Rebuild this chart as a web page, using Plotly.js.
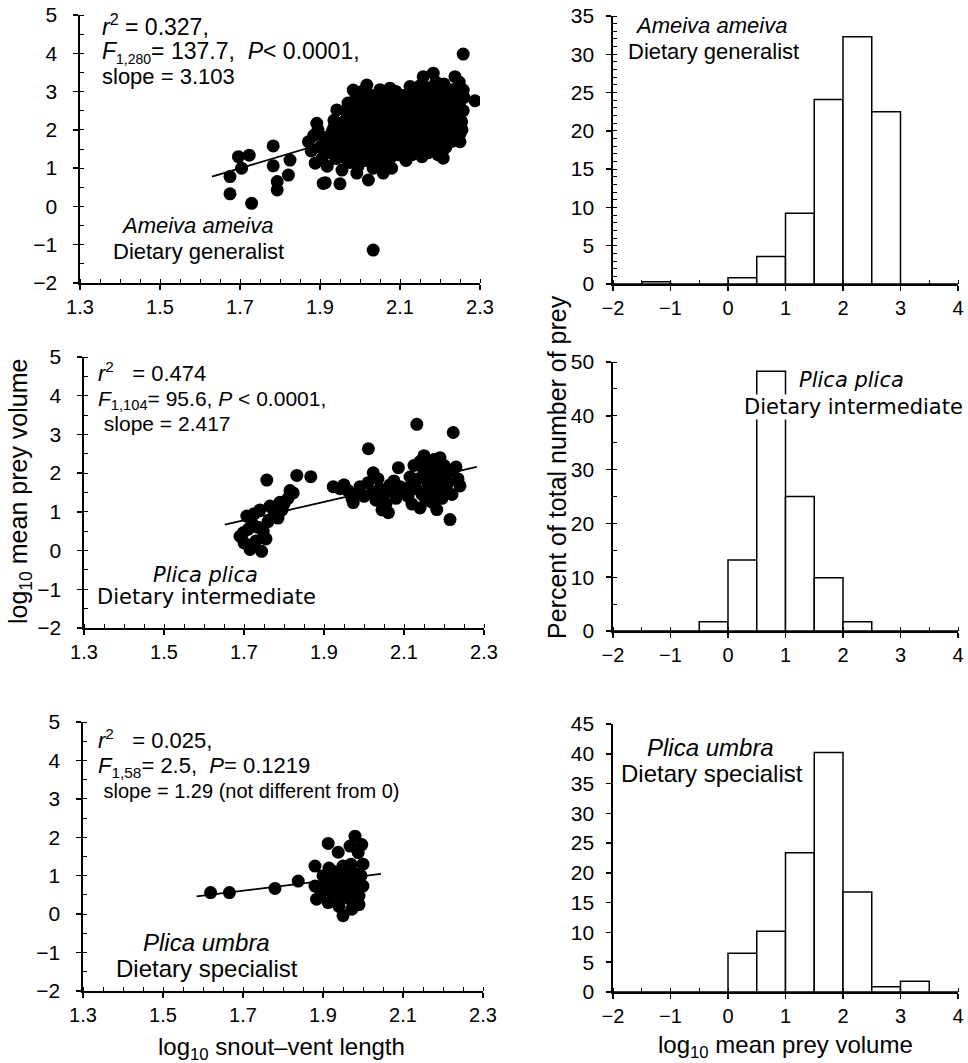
<!DOCTYPE html>
<html>
<head>
<meta charset="utf-8">
<script src="https://cdn.plot.ly/plotly-3.0.1.min.js"></script>
<style>html,body{margin:0;padding:0;background:#fff;}#chart{width:968px;height:1063px;}</style>
</head>
<body>
<div id="chart"></div>
<script>
// ---------------- DATA ----------------
// Ameiva ameiva: log10 SVL vs log10 mean prey volume
const ameivaSVL = [
 2.258,2.033,2.2875,1.675,1.729,1.675,1.696,1.723,1.704,1.783,1.783,1.825,1.821,1.793,1.793,1.892,1.871,1.888,1.913,1.95,
 1.992,2.021,2.033,2.058,2.079,1.942,1.983,2.017,2.075,2.125,2.158,2.183,2.2375,2.258,2.208,2.25,2.254,1.908,
 1.878,1.884,1.895,1.90,1.905,1.91,
 1.918,1.922,1.925,1.93,1.935,1.94,1.945,1.948,1.95,
 1.955,1.958,1.96,1.962,1.965,1.968,1.97,
 1.975,1.978,1.98,1.982,1.985,1.988,1.99,
 1.995,1.998,2.0,2.002,2.005,2.008,2.01,2.005,
 2.015,2.018,2.02,2.022,2.025,2.028,2.03,
 2.035,2.038,2.04,2.042,2.045,2.048,2.05,
 2.055,2.058,2.06,2.062,2.065,2.068,
 2.075,2.078,2.08,2.082,2.085,2.088,2.09,
 2.095,2.098,2.1,2.102,2.105,2.108,
 2.115,2.118,2.12,2.122,2.125,2.128,2.13,
 2.135,2.138,2.14,2.142,2.145,2.148,2.15,
 2.155,2.158,2.16,2.162,2.165,2.168,2.17,
 2.175,2.178,2.18,2.182,2.185,2.188,2.19,
 2.195,2.198,2.2,2.202,2.205,2.208,2.21,
 2.215,2.218,2.22,2.222,2.225,2.228,
 2.235,2.238,2.24,2.242,2.245,2.248,
 2.255,2.258,2.26,
 1.93,1.932,1.934,
 1.965,1.966,1.964,1.967,1.963,1.968,
 1.99,1.992,1.988,1.991,1.993,1.989,
 2.01,2.012,2.011,2.013,2.009,2.012,
 2.03,2.032,2.031,2.029,2.033,
 2.05,2.052,2.051,2.049,2.053,2.05,
 2.07,2.072,2.071,2.069,2.073,2.07,
 2.09,2.092,2.091,2.089,2.093,
 2.11,2.112,2.111,2.109,2.113,2.11,
 2.13,2.132,2.131,2.129,2.133,2.13,
 2.15,2.152,2.151,2.149,2.153,2.15,
 2.17,2.172,2.171,2.169,2.173,2.17,
 2.19,2.192,2.191,2.189,2.193,2.19,
 2.21,2.212,2.211,2.209,2.213,2.21,
 2.23,2.232,2.231,2.229,2.233,
 2.25,2.252,2.249,2.251
];
const ameivaPrey = [
 3.98,-1.14,2.76,0.33,0.08,0.78,1.30,1.34,1.00,1.58,1.06,1.21,0.82,0.65,0.43,2.17,1.69,1.13,0.62,0.59,
 0.87,0.69,1.00,0.87,1.00,2.52,3.04,3.17,3.09,3.13,3.39,3.48,3.39,3.04,1.26,1.69,2.21,0.60,
 1.45,1.85,2.00,1.55,1.25,1.80,
 1.05,1.40,1.70,1.95,2.25,1.25,1.60,1.90,2.15,
 0.95,1.35,1.60,1.85,2.10,2.40,2.70,
 1.15,1.45,1.75,2.00,2.30,2.60,2.85,
 1.05,1.35,1.65,1.90,2.20,2.50,2.75,3.00,
 1.20,1.50,1.80,2.05,2.35,2.65,2.90,
 1.30,1.60,1.95,2.25,2.55,2.85,3.05,
 1.15,1.45,1.75,2.10,2.40,2.70,
 1.25,1.55,1.85,2.15,2.45,2.80,3.00,
 1.35,1.70,2.00,2.30,2.60,2.90,
 1.20,1.50,1.80,2.10,2.40,2.70,2.95,
 1.40,1.65,1.95,2.25,2.55,2.85,3.15,
 1.30,1.60,1.90,2.20,2.50,2.80,3.10,
 1.45,1.75,2.05,2.35,2.65,2.95,3.25,
 1.35,1.70,2.00,2.30,2.60,2.90,3.20,
 1.55,1.85,2.15,2.45,2.75,3.05,
 1.80,2.10,2.40,2.70,2.95,3.25,
 2.00,2.50,2.85,
 1.50,1.80,2.05,
 1.25,1.50,1.75,2.00,2.25,2.55,
 1.30,1.60,1.90,2.15,2.45,2.70,
 1.50,1.80,2.05,2.35,2.60,2.90,
 1.45,1.75,2.10,2.40,2.70,
 1.30,1.60,1.90,2.25,2.55,2.85,
 1.40,1.70,2.00,2.30,2.60,2.90,
 1.50,1.80,2.10,2.40,2.70,
 1.30,1.60,1.90,2.20,2.50,2.80,
 1.35,1.65,1.95,2.30,2.60,2.90,
 1.55,1.80,2.10,2.40,2.70,3.00,
 1.40,1.70,2.00,2.30,2.60,2.90,
 1.60,1.90,2.20,2.50,2.80,3.10,
 1.50,1.80,2.10,2.40,2.70,3.00,
 1.70,2.00,2.30,2.60,2.90,
 1.90,2.25,2.65,3.10
];
const ameivaFitX = [1.63, 2.28];
const ameivaFitY = [0.78, 2.80];

// Plica plica
const plicaSVL = [
 1.69,1.698,1.715,1.744,1.72,1.748,1.765,1.757,1.707,1.785,1.80,1.823,1.832,1.867,1.70,1.73,1.725,1.74,1.76,1.775,1.79,1.81,1.735,1.71,1.755,1.795,1.815,1.72,
 1.923,1.94,1.96,1.973,1.98,1.99,2.0,2.01,2.011,2.023,2.02,2.03,2.04,2.05,2.055,2.061,2.07,2.075,2.08,2.086,2.09,2.1,1.95,1.97,2.035,2.045,2.065,
 2.11,2.115,2.12,2.125,2.13,2.132,2.135,2.14,2.145,2.15,2.155,2.16,2.16,2.165,2.17,2.175,2.18,2.182,2.185,2.19,2.195,2.2,2.2,2.205,2.21,2.215,2.215,2.22,2.223,2.23,2.235,2.24,2.12,2.14,2.17,2.19,2.15
];
const plicaPrey = [
 0.37,0.46,0.03,-0.02,0.70,0.50,1.15,1.82,0.89,0.84,1.20,1.49,1.94,1.91,0.20,0.25,0.95,1.05,0.75,1.00,1.25,1.35,0.60,0.55,0.30,1.05,1.55,0.15,
 1.65,1.60,1.55,1.24,1.45,1.65,1.40,1.75,2.63,2.01,1.50,1.30,1.60,1.45,1.20,0.98,1.55,1.80,1.35,2.14,1.65,1.50,1.70,1.35,1.85,1.05,1.70,
 1.40,1.90,1.20,2.20,1.60,3.26,1.85,2.30,1.45,2.05,1.30,2.25,1.70,1.95,1.50,2.35,1.80,1.06,2.10,1.60,1.35,1.90,2.20,1.55,1.75,0.80,2.05,1.45,3.05,2.16,1.85,1.67,1.65,1.10,1.25,2.40,2.45
];
const plicaFitX = [1.652, 2.282];
const plicaFitY = [0.67, 2.16];

// Plica umbra
const umbraSVL = [
 1.619,1.666,1.78,1.838,1.913,1.938,1.98,1.9675,1.997,1.988,1.88,2.0,1.88,1.884,1.913,1.95,1.972,2.0,1.99,1.934,
 1.90,1.92,1.93,1.94,1.945,1.955,1.96,1.965,1.97,1.975,1.98,1.985,1.99,1.905,1.925,1.95,1.96,1.94,1.915,1.995,1.97,1.93,1.955,1.98,1.895
];
const umbraPrey = [
 0.56,0.56,0.67,0.86,1.84,1.61,2.03,1.77,1.81,1.60,1.25,1.30,0.73,0.39,0.30,-0.04,0.13,0.73,0.47,0.82,
 1.00,0.60,1.10,0.45,0.95,0.70,1.15,0.40,0.90,0.60,1.05,0.80,0.25,0.75,0.90,1.25,0.55,0.20,1.20,1.00,1.30,0.55,0.95,0.35,0.55
];
const umbraFitX = [1.584, 2.045];
const umbraFitY = [0.46, 1.05];

// Histograms: bin centres (0.5-wide bins from -2 to 4) and percent of prey
const binCenters = [-1.75,-1.25,-0.75,-0.25,0.25,0.75,1.25,1.75,2.25,2.75,3.25,3.75];
const ameivaPct = [0, 0.3, 0, 0, 0.8, 3.6, 9.25, 24.1, 32.3, 22.5, 0, 0];
const plicaPct  = [0, 0, 0, 1.7, 13.2, 48.3, 25.0, 9.9, 1.7, 0, 0, 0];
const umbraPct  = [0, 0, 0, 0, 6.5, 10.2, 23.4, 40.2, 16.8, 0.9, 1.8, 0];

const svlTicks = [1.3, 1.5, 1.7, 1.9, 2.1, 2.3];
const volTicks = [-2, -1, 0, 1, 2, 3, 4];

// ---------------- LAYOUT HELPERS ----------------
const W = 968, H = 1063;
const px = v => v / W;
const py = v => 1 - v / H;
const SANS = 'Liberation Sans, Arial, Helvetica, sans-serif';
const DJ = 'DejaVu Sans, Verdana, sans-serif';

function scatterTrace(x, y, xa, ya) {
  return {x, y, xaxis: xa, yaxis: ya, type: 'scatter', mode: 'markers',
    marker: {color: 'black', size: 13, line: {width: 0}}, hoverinfo: 'skip'};
}
function fitTrace(x, y, xa, ya) {
  return {x, y, xaxis: xa, yaxis: ya, type: 'scatter', mode: 'lines',
    line: {color: 'black', width: 1.8}, hoverinfo: 'skip'};
}
function barTrace(y, xa, ya) {
  return {x: binCenters, y, xaxis: xa, yaxis: ya, type: 'bar', width: 0.5,
    marker: {color: 'white', line: {color: 'black', width: 1.5}}, hoverinfo: 'skip'};
}

const baseAxis = {
  showline: true, linecolor: 'black', linewidth: 1.6, mirror: false,
  ticks: 'outside', ticklen: 5, tickwidth: 1.5, tickcolor: 'black',
  showgrid: false, zeroline: false, fixedrange: true,
  tickfont: {family: SANS, size: 21, color: 'black'}
};
function xAx(dom, anchor, range, tickvals, minorDtick) {
  return Object.assign({}, baseAxis, {domain: dom, anchor, range, tickmode: 'array', tickvals,
    ticklabelstandoff: 0, tickfont: {family: SANS, size: 20, color: 'black'},
    minor: {ticks: 'inside', ticklen: 4, tickwidth: 1, tickcolor: 'black', dtick: minorDtick, tick0: range[0], showgrid: false}});
}
function yAx(dom, anchor, range, dtick, minorDtick, standoff) {
  const a = Object.assign({}, baseAxis, {domain: dom, anchor, range, tickmode: 'linear', tick0: 0, dtick,
    ticklabelstandoff: standoff});
  if (minorDtick) a.minor = {ticks: 'inside', ticklen: 4, tickwidth: 1, tickcolor: 'black', dtick: minorDtick, tick0: 0, showgrid: false};
  return a;
}

function ann(text, x, y, opts) {
  opts = opts || {};
  return Object.assign({xref: 'paper', yref: 'paper', x: px(x), y: py(y), text,
    showarrow: false, xanchor: opts.xanchor || 'left', yanchor: opts.yanchor || 'middle',
    align: opts.xanchor === 'center' ? 'center' : 'left',
    font: {family: opts.family || SANS, size: opts.size || 21, color: 'black'}}, opts.extra || {});
}
// multi-line stats block: line spacing set by base size, glyphs by span size
function stats(lines, x, yTop, base, sizes) {
  const t = lines.map((l, i) => '<span style="font-size:' + sizes[i] + 'px">' + l + '</span>').join('<br>');
  return ann(t, x, yTop, {size: base, yanchor: 'top'});
}

const traces = [
  scatterTrace(ameivaSVL, ameivaPrey, 'x', 'y'),
  fitTrace(ameivaFitX, ameivaFitY, 'x', 'y'),
  scatterTrace(plicaSVL, plicaPrey, 'x2', 'y2'),
  fitTrace(plicaFitX, plicaFitY, 'x2', 'y2'),
  scatterTrace(umbraSVL, umbraPrey, 'x3', 'y3'),
  fitTrace(umbraFitX, umbraFitY, 'x3', 'y3'),
  barTrace(ameivaPct, 'x4', 'y4'),
  barTrace(plicaPct, 'x5', 'y5'),
  barTrace(umbraPct, 'x6', 'y6')
];

const layout = {
  width: W, height: H, margin: {l: 0, r: 0, t: 0, b: 0},
  paper_bgcolor: 'white', plot_bgcolor: 'rgba(0,0,0,0)', showlegend: false, bargap: 0,
  font: {family: SANS, color: 'black'},
  xaxis:  xAx([px(80), px(480)], 'y', [1.3, 2.3], svlTicks, 0.05),
  yaxis:  yAx([py(283), py(15)], 'x', [-2, 5], 1, 0.5, 12),
  xaxis2: xAx([px(84), px(484)], 'y2', [1.3, 2.3], svlTicks, 0.05),
  yaxis2: yAx([py(628), py(357)], 'x2', [-2, 5], 1, 0.5, 12),
  xaxis3: xAx([px(83), px(483)], 'y3', [1.3, 2.3], svlTicks, 0.05),
  yaxis3: yAx([py(991), py(722)], 'x3', [-2, 5], 1, 0.5, 12),
  xaxis4: xAx([px(613), px(958)], 'y4', [-2, 4], volTicks, 0.5),
  yaxis4: yAx([py(284), py(16)], 'x4', [0, 35], 5, 1, 8),
  xaxis5: xAx([px(613), px(958)], 'y5', [-2, 4], volTicks, 0.5),
  yaxis5: yAx([py(631), py(362)], 'x5', [0, 50], 10, 5, 8),
  xaxis6: xAx([px(613), px(958)], 'y6', [-2, 4], volTicks, 0.5),
  yaxis6: yAx([py(992), py(724)], 'x6', [0, 45], 5, null, 8),
  annotations: [
    // top-left
    stats(['<i>r</i><sup>2</sup> = 0.327,',
           '<i>F</i><sub><span style="font-size:14px">1,280</span></sub>= 137.7,&nbsp;&nbsp;<i>P</i>&lt; 0.0001,',
           'slope = 3.103'], 100, 8, 19, [23, 23, 22]),
    ann('<i>Ameiva ameiva</i>', 197, 226, {xanchor: 'center', size: 22}),
    ann('Dietary generalist', 198, 252, {xanchor: 'center', size: 22}),
    // middle-left
    stats(['<i>r</i><sup>2</sup>&nbsp;&nbsp; = 0.474',
           '<i>F</i><sub>1,104</sub>= 95.6, <i>P</i> &lt; 0.0001,',
           '&nbsp;slope = 2.417'], 96, 356, 19, [22, 21, 21]),
    ann('<i>Plica plica</i>', 205, 575, {xanchor: 'center', family: DJ, size: 21}),
    ann('Dietary intermediate', 206, 597, {xanchor: 'center', family: DJ, size: 21}),
    // bottom-left
    stats(['<i>r</i><sup>2</sup>&nbsp;&nbsp; = 0.025,',
           '<i>F</i><sub>1,58</sub>= 2.5,&nbsp;&nbsp;<i>P</i>= 0.1219',
           '&nbsp;slope = 1.29 (not different from 0)'], 96, 723, 19, [22, 22, 20]),
    ann('<i>Plica umbra</i>', 206, 942, {xanchor: 'center', size: 24}),
    ann('Dietary specialist', 207, 968, {xanchor: 'center', size: 24}),
    // top-right
    ann('<i>Ameiva ameiva</i>', 711, 25, {xanchor: 'center', size: 22}),
    ann('Dietary generalist', 713, 52, {xanchor: 'center', size: 22}),
    // middle-right
    ann('<i>Plica plica</i>', 851, 380, {xanchor: 'center', family: DJ, size: 21}),
    ann('Dietary intermediate', 853, 407, {xanchor: 'center', family: DJ, size: 21, extra: {bgcolor: 'white', borderpad: 0}}),
    // bottom-right
    ann('<i>Plica umbra</i>', 710, 747, {xanchor: 'center', size: 24}),
    ann('Dietary specialist', 712, 773, {xanchor: 'center', size: 24}),
    // axis titles
    ann('log<sub>10</sub> mean prey volume', 20, 492, {xanchor: 'center', size: 25, extra: {textangle: -90}}),
    ann('Percent of total number of prey', 557, 467, {xanchor: 'center', size: 25, extra: {textangle: -90}}),
    ann('log<sub>10</sub> snout\u2013vent length', 281, 1048, {xanchor: 'center', size: 24}),
    ann('log<sub>10</sub> mean prey volume', 785, 1046, {xanchor: 'center', size: 24})
  ]
};

Plotly.newPlot('chart', traces, layout, {displayModeBar: false, staticPlot: true});
</script>
</body>
</html>
